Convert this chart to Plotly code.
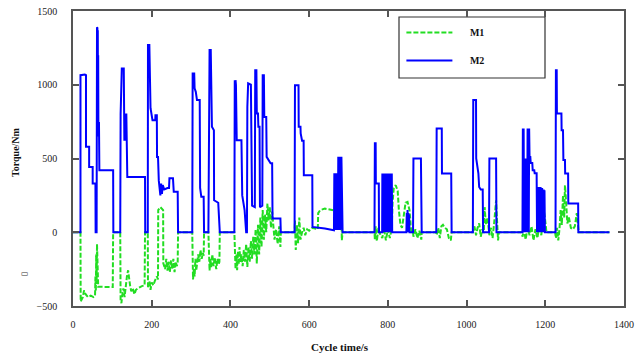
import plotly.graph_objects as go

# ---------------- data ----------------
x_ticks = [0, 200, 400, 600, 800, 1000, 1200, 1400]
y_ticks = [-500, 0, 500, 1000, 1500]

# M2 (blue, solid)
m2_time = [
    0, 19, 19, 30, 33, 33, 41, 41, 50, 50, 57, 57.5,
    60, 60.5, 61, 62, 62.5, 63, 63.5, 64, 64.5, 66, 67, 102, 102.5,
    120, 121, 122, 124, 129, 129.5, 130.5, 131.5, 132.5, 133.5, 134.5, 135.5, 136.5, 137, 138, 183, 183.5,
    190, 190.5, 194, 195, 197, 202, 209, 209.5, 213, 213.5, 216, 218, 220, 222, 224, 226, 228, 232, 240, 244, 245, 254, 256, 266, 267,
    303, 304, 308, 309, 312, 315, 322, 323, 326, 332, 333,
    344, 345, 347, 350, 351, 353, 358, 358.5, 369, 373,
    410, 411, 412, 413, 414, 416, 428, 430, 436, 440, 442,
    443, 444, 445, 452, 453, 455, 462, 463, 466, 467, 470, 471, 474, 475,
    481, 482, 485, 486, 491, 492, 502, 506, 507, 527, 528,
    563, 564, 573, 573.5, 578, 578.5, 582, 586, 586.5, 608, 608.5, 640, 663,
    664, 665, 666, 667, 668, 669, 670, 671, 672, 673, 674, 675, 676, 677, 678, 679, 680, 681, 682, 683, 684, 685,
    766, 767, 769, 769.5, 777, 777.5, 785.5,
    786, 787, 788, 789, 790, 791, 792, 793, 794, 795, 796, 797, 798, 799, 800, 801, 802, 803, 804, 805, 806, 807, 808, 809, 810, 811,
    847, 848, 849, 850, 851, 852, 853, 854, 855, 856,
    864, 865, 884, 886,
    923, 924, 937, 937.5, 961, 962,
    1016, 1017, 1024, 1024.5, 1028, 1030, 1032, 1036, 1041, 1042,
    1057, 1058, 1075, 1076,
    1142, 1143, 1144, 1145, 1146, 1147, 1148, 1149, 1150, 1151, 1152, 1153, 1154, 1155, 1156, 1157, 1158, 1159, 1160,
    1162, 1163, 1167, 1168, 1172, 1173, 1178,
    1179, 1180, 1181, 1182, 1183, 1184, 1185, 1186, 1187, 1188, 1189, 1190, 1191, 1192, 1193, 1194, 1195, 1196, 1197, 1198, 1199,
    1226, 1227, 1229, 1229.5, 1241, 1241.5, 1245, 1246, 1250, 1250.5, 1258, 1258.5, 1280, 1283.5, 1284, 1363,
]
m2_torque = [
    0, 0, 1065, 1070, 1065, 580, 580, 443, 443, 330, 330, 0,
    0, 1100, 1390, 1385, 680, 1370, 650, 1200, 740, 740, 420, 420, 0,
    0, 800, 1020, 1111, 1111, 805, 620, 805, 620, 805, 620, 805, 600, 535, 375, 375, 0,
    0, 1269, 1269, 1167, 841, 760, 760, 794, 794, 511, 511, 350, 300, 250, 330, 260, 320, 290, 300, 300, 366, 366, 275, 275, 0,
    0, 1077, 1077, 975, 952, 896, 896, 300, 240, 240, 0,
    0, 963, 1235, 1235, 771, 715, 692, 217, 200, 0,
    0, 1031, 850, 1031, 1000, 624, 624, 250, 150, 0, 0,
    850, 1009, 1009, 1000, 600, 180, 170, 1099, 1099, 805, 805, 715, 715, 170,
    180, 1065, 1065, 782, 782, 511, 467, 467, 93, 93, 0,
    0, 997, 997, 715, 715, 670, 620, 620, 387, 387, 36, 25, 14,
    400, 20, 400, 15, 400, 20, 400, 15, 400, 20, 511, 15, 511, 20, 511, 15, 511, 20, 511, 300, 0, 0,
    0, 604, 604, 330, 330, 0, 0,
    398, 0, 398, 0, 398, 0, 398, 0, 398, 0, 398, 0, 398, 0, 398, 0, 398, 0, 398, 0, 398, 0, 398, 0, 398, 0,
    0, 130, 0, 150, 0, 130, 0, 120, 0, 0,
    0, 500, 500, 0,
    0, 704, 704, 398, 398, 0,
    0, 896, 896, 500, 450, 400, 307, 290, 290, 0,
    0, 500, 500, 0,
    0, 704, 0, 704, 0, 480, 0, 500, 0, 480, 0, 500, 0, 704, 0, 704, 0, 704, 511,
    511, 470, 470, 420, 420, 400, 400,
    0, 307, 0, 307, 0, 307, 0, 307, 0, 307, 0, 300, 0, 300, 0, 290, 0, 290, 0, 285, 0,
    0, 1099, 1099, 805, 805, 692, 692, 489, 489, 398, 398, 195, 195, 195, 0, 0,
]

# M1 (green, dashed)
m1_time = [
    0, 19, 19.5, 22, 25, 28, 32, 38, 45, 52, 56, 57, 58, 59, 60, 61, 62, 63, 64, 68, 80, 101, 102,
    120, 121, 123, 125, 128, 131, 134, 137, 140, 142, 145, 148, 152, 156, 160, 165, 170, 175, 182, 183,
    190, 190.5, 194, 197, 200, 204, 208, 213, 216, 216.5, 222, 227, 229, 229.5, 234, 237, 240, 243, 246, 249, 252, 255, 258, 261, 264, 266, 267,
    303, 304, 305, 307, 309, 311, 313, 315, 318, 321, 324, 327, 330, 332, 333,
    344, 345, 347, 349, 351, 354, 357, 360, 364, 367, 370, 372, 373,
    410, 411, 413, 415, 417, 419, 421, 423, 425, 428, 431, 434, 437, 440, 443, 446, 449, 452, 455, 458, 461,
    464, 467, 470, 473, 476, 479, 482, 485, 488, 491, 494, 497, 500, 503, 506, 509, 512, 516, 520, 524, 527, 528,
    563, 564, 566, 569, 572, 575, 578, 582, 586, 590, 595, 600, 608, 615, 620, 622, 623, 628, 640, 660, 670, 680, 682, 683, 685,
    766, 767, 769, 772, 776, 778, 786, 790, 795, 800, 805, 810, 812, 815, 820, 825, 828, 832, 836, 840, 845, 850, 855, 858, 860,
    864, 865, 870, 875, 880, 885, 886, 923, 924, 928, 932, 936, 940, 945, 950, 955, 960, 962,
    1016, 1017, 1020, 1024, 1028, 1032, 1036, 1040, 1042, 1044, 1046, 1049, 1053, 1058, 1062, 1066, 1070, 1072, 1075, 1077, 1080, 1082,
    1140, 1142, 1146, 1150, 1155, 1160, 1165, 1170, 1175, 1180, 1185, 1190, 1195, 1199, 1203,
    1225, 1227, 1230, 1233, 1236, 1239, 1242, 1245, 1248, 1250, 1253, 1256, 1260, 1265, 1270, 1275, 1280, 1283, 1285, 1363,
]
m1_torque = [
    0, 0, -470, -450, -440, -395, -420, -440, -430, -440, -430, -300, -400, -150, -350, -80, -300, -200, -370, -370, -371, -371, 0,
    0, -470, -480, -430, -380, -440, -350, -300, -258, -320, -360, -400, -380, -420, -390, -380, -370, -365, -360, 0,
    0, -380, -330, -390, -340, -360, -330, -300, -320, 150, 170, 160, 150, -210, -250, -180, -260, -200, -270, -190, -250, -180, -270, -200, -230, -200, 0,
    0, -200, -320, -250, -300, -180, -260, -220, -150, -200, -120, -180, -140, -160, 0,
    0, -150, -260, -180, -240, -150, -230, -170, -250, -180, -220, -200, 0,
    0, -100, -250, -150, -258, -130, -220, -100, -200, -150, -230, -120, -200, -80, -235, -100, -200, -60, -180, -30, -150,
    20, -212, 50, -150, 100, -100, 150, -50, 120, 0, 195, 80, 170, 30, 140, 60, -50, 20, -80, 40, -100, 0,
    0, 80, -120, 50, -75, 100, -50, 0, 30, -20, 20, 10, 30, 25, 20, 20, 130, 150, 160, 150, 150, 140, 140, -55, 0,
    0, -50, 40, -60, 30, 0, -40, 30, -55, 20, -40, 30, 200, 300, 319, 280, 150, 50, 30, 100, 200, 206, 150, 50, 0,
    0, -30, 20, -40, 10, -50, 0, 0, -20, 30, -40, 40, 50, 30, 20, -40, -55, 0,
    0, 20, 40, -20, 30, 60, -30, 20, 0, 0, 170, 50, 100, -20, 30, -40, 60, 120, 217, 100, -55, 0,
    0, -30, 20, -50, 30, -20, 40, -55, 20, -40, 50, -20, 170, 100, 0,
    0, -40, 30, -55, 20, 150, 50, 250, 100, 319, 200, 60, 100, 30, 20, 40, 129, 60, 0, 0,
]

assert len(m2_time) == len(m2_torque), (len(m2_time), len(m2_torque))
assert len(m1_time) == len(m1_torque), (len(m1_time), len(m1_torque))

series_names = ["M1", "M2"]
x_title = "Cycle time/s"
y_title = "Torque/Nm"

# ---------------- figure ----------------
SERIF = "Liberation Serif, Times New Roman, serif"
AXIS_COLOR = "#555555"
NB = "\u00a0" * 5  # gap between legend sample and label

fig = go.Figure()
fig.add_trace(go.Scatter(
    x=m1_time, y=m1_torque, name=NB + series_names[0], mode="lines",
    line=dict(color="#22dd22", width=2, dash="5px,2px"),
    legendgroup="a",
))
fig.add_trace(go.Scatter(
    x=m2_time, y=m2_torque, name=NB + series_names[1], mode="lines",
    line=dict(color="#0000ff", width=2),
    legendgroup="b",
))

axis_common = dict(
    showgrid=False, zeroline=False, showline=True, mirror="ticks",
    linecolor=AXIS_COLOR, linewidth=1.5, automargin=False,
    ticks="inside", ticklen=6, tickwidth=1.5, tickcolor=AXIS_COLOR,
    tickfont=dict(family=SERIF, size=10, color="#222222"),
)

fig.update_layout(
    width=636, height=359,
    margin=dict(l=73, r=12, t=11, b=53),
    paper_bgcolor="white", plot_bgcolor="white",
    xaxis=dict(range=[0, 1400], tickvals=x_ticks, ticklabelstandoff=8, **axis_common),
    yaxis=dict(range=[-500, 1500], tickvals=y_ticks, ticklabelstandoff=12, **axis_common),
    showlegend=True,
    legend=dict(
        x=0.596, y=0.976, xanchor="left", yanchor="top",
        bgcolor="rgba(0,0,0,0)", borderwidth=0,
        font=dict(family=SERIF, size=10, color="#111111", weight="bold"),
        itemwidth=46, tracegroupgap=9,
    ),
    shapes=[dict(
        type="rect", xref="paper", yref="paper",
        x0=(399 - 73) / 551, x1=(545 - 73) / 551,
        y0=(306 - 78) / 295, y1=(306 - 17) / 295,
        line=dict(color="#333333", width=1.2), fillcolor="white", layer="below",
    )],
    annotations=[
        dict(text=y_title, textangle=-90, xref="paper", yref="paper",
             x=(15 - 73) / 551, y=(306 - 152) / 295, showarrow=False,
             font=dict(family=SERIF, size=10, color="#111111", weight="bold"),
             xanchor="center", yanchor="middle"),
        dict(text=x_title, xref="paper", yref="paper",
             x=(340 - 73) / 551, y=(306 - 347) / 295, showarrow=False,
             font=dict(family=SERIF, size=11, color="#111111", weight="bold"),
             xanchor="center", yanchor="middle"),
        dict(text="\u25ad", textangle=0, xref="paper", yref="paper",
             x=(25 - 73) / 551, y=(306 - 273) / 295, showarrow=False,
             font=dict(family="DejaVu Sans", size=8, color="#333333"),
             xanchor="center", yanchor="middle"),
    ],
)

fig.write_html("out.html")
